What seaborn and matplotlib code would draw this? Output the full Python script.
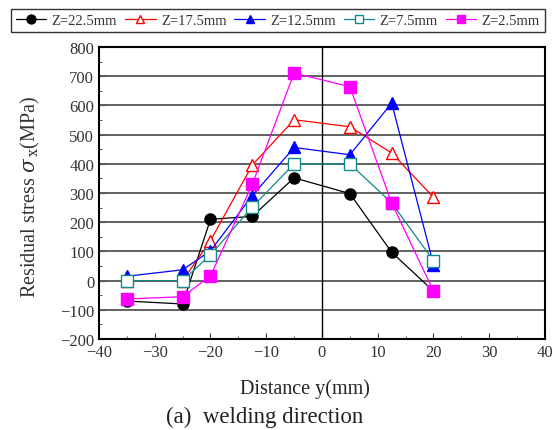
import matplotlib
matplotlib.use("Agg")
import matplotlib.pyplot as plt
import seaborn as sns
import pandas as pd
from matplotlib.ticker import MultipleLocator

sns.set_style("ticks")
plt.rcParams['font.family'] = ['Liberation Serif', 'DejaVu Serif']
plt.rcParams['axes.unicode_minus'] = True
plt.rcParams['mathtext.fontset'] = 'dejavuserif'

y_pos = [-35, -25, -20, -12.5, -5, 5, 12.5, 20]
z_labels = ["Z=22.5mm", "Z=17.5mm", "Z=12.5mm", "Z=7.5mm", "Z=2.5mm"]
s_22_5 = [-70, -80, 210, 220, 352, 298, 97, -36]
s_17_5 = [0, 0, 137, 396, 551, 527, 437, 285]
s_12_5 = [15, 37, 102, 291, 456, 431, 608, 55]
s_7_5 = [0, 0, 88, 252, 400, 400, 266, 68]
s_2_5 = [-63, -55, 16, 330, 711, 664, 266, -36]
series = [s_22_5, s_17_5, s_12_5, s_7_5, s_2_5]

colors = ["black", "red", "blue", "#108a8a", "magenta"]
markers = ["o", "^", "^", "s", "s"]
faces = ["black", "white", "blue", "white", "magenta"]

fig = plt.figure(figsize=(5.58, 4.31), dpi=100)
ax = fig.add_axes([0.1774, 0.2111, 0.7993, 0.6775])

for lab, vals, c, m, fc in zip(z_labels, series, colors, markers, faces):
    df = pd.DataFrame({"y": y_pos, "s": vals})
    sns.lineplot(data=df, x="y", y="s", ax=ax, color=c, lw=0.9, marker=m,
                 markersize=8, markerfacecolor=fc, markeredgecolor=c,
                 markeredgewidth=1.0, label=lab, sort=False, zorder=3)

ax.set_xlim(-40, 40)
ax.set_ylim(-200, 800)
ax.xaxis.set_major_locator(MultipleLocator(10))
ax.xaxis.set_minor_locator(MultipleLocator(5))
ax.yaxis.set_major_locator(MultipleLocator(100))
ax.yaxis.set_minor_locator(MultipleLocator(50))
ax.tick_params(which="both", direction="in", labelsize=12, colors="#333333")
ax.tick_params(which="major", length=4)
ax.tick_params(which="minor", length=2.5)
for v in range(-100, 800, 100):
    ax.axhline(v, color="#555555", lw=1.3, zorder=1)
ax.axvline(0, color="black", lw=1.0, zorder=1)
for sp in ax.spines.values():
    sp.set_color("black")
    sp.set_linewidth(1.5)

ax.set_xlabel("")
ax.set_ylabel("Residual stress $\\sigma$$_{\\,\\mathrm{x}}$(MPa)", fontsize=14.5, color="#333333")
ax.yaxis.set_label_coords(-0.128, 0.49)

leg = ax.legend(loc="center", bbox_to_anchor=(0.401, 1.09), ncol=5, fontsize=10.5,
                frameon=True, fancybox=False, edgecolor="black", handlelength=2.1,
                handletextpad=0.35, columnspacing=0.55, borderpad=0.35, borderaxespad=0,
                markerscale=0.8)
leg.get_frame().set_linewidth(1.0)
for t in leg.get_texts():
    t.set_color("#333333")

fig.text(0.547, 0.0974, "Distance y(mm)", ha="center", va="center", fontsize=14.5, color="#222222")
fig.text(0.475, 0.0325, "(a)  welding direction", ha="center", va="center", fontsize=16.5, color="#222222")

fig.savefig("out.png", dpi=100)
